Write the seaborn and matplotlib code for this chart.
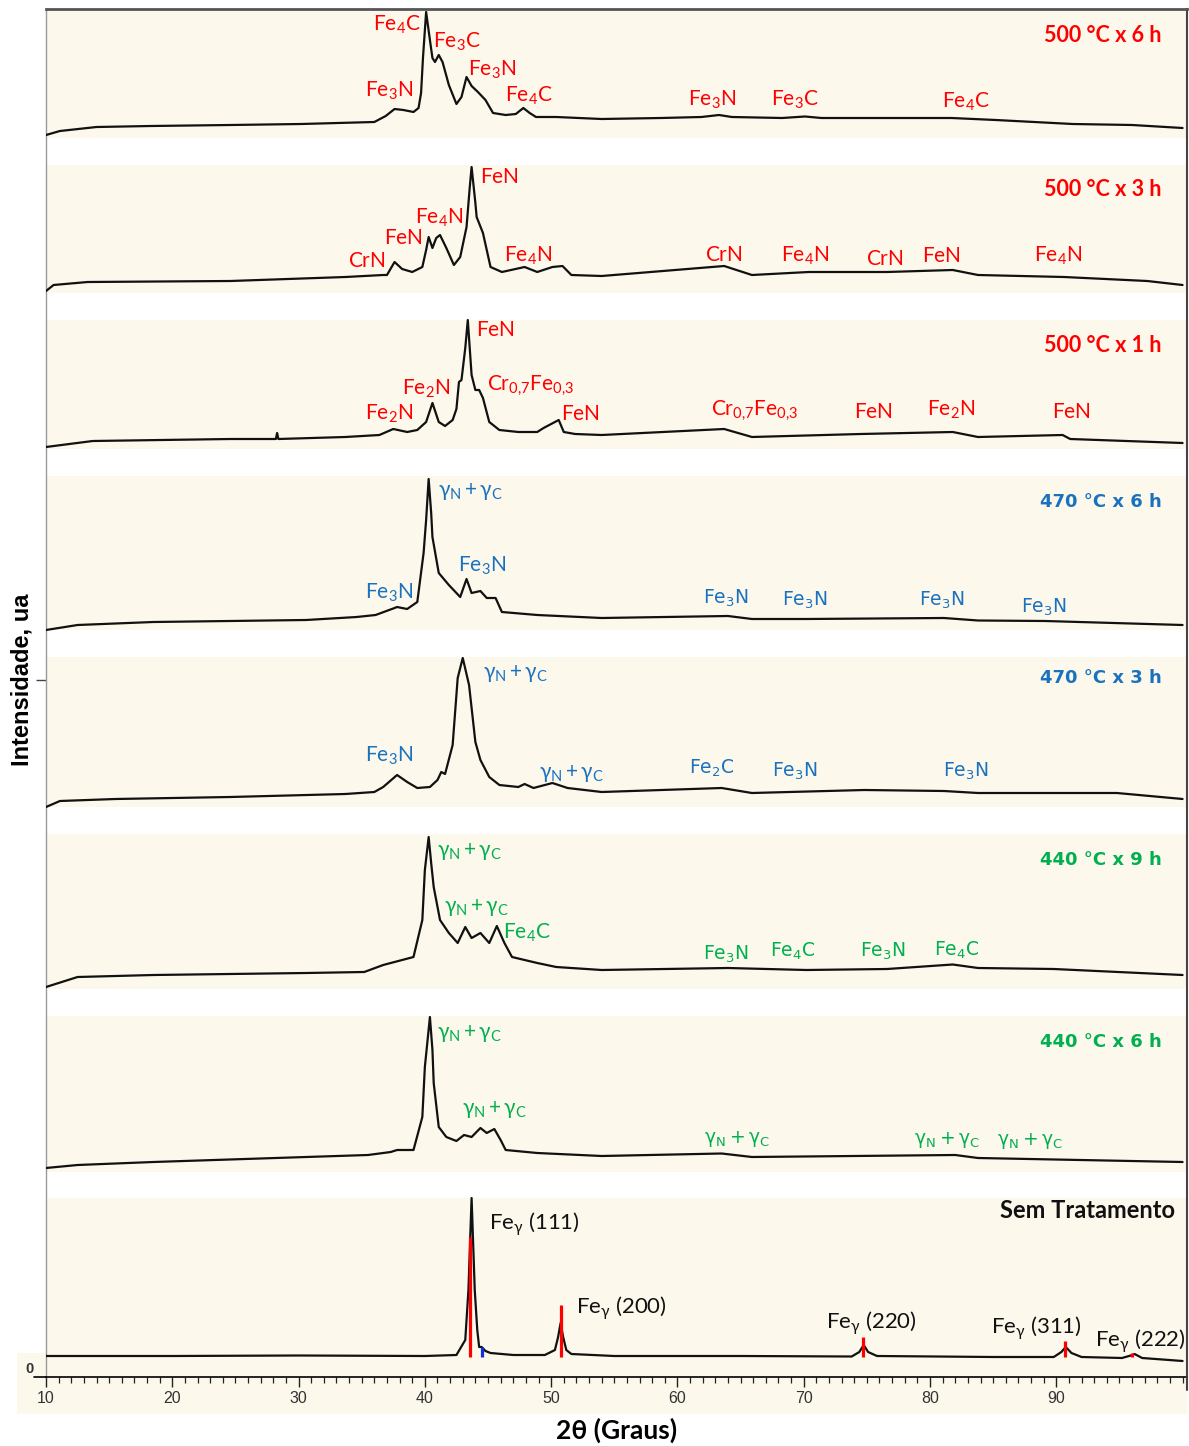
import matplotlib
matplotlib.use("Agg")
import matplotlib.pyplot as plt
from matplotlib.ticker import MultipleLocator
from matplotlib.patches import Rectangle
from matplotlib.lines import Line2D
import seaborn as sns

sns.set_style("white")
plt.rcParams['font.family'] = ['Lato', 'DejaVu Sans']
plt.rcParams['mathtext.fontset'] = 'custom'
plt.rcParams['mathtext.rm'] = 'Lato'
plt.rcParams['mathtext.it'] = 'Lato:italic'
plt.rcParams['mathtext.bf'] = 'Lato:bold'

# ---------------- data (2theta in degrees, intensity in a.u.) ----------------
tt_500_6h = [10.0, 11.1, 14.0, 18.3, 24.6, 30.2, 36.0, 36.9, 37.6, 38.3, 39.1, 39.5, 39.7, 39.85, 40.1,
             40.4, 40.6, 40.8, 41.1, 41.4, 41.9, 42.5, 42.9, 43.3, 43.7, 44.2, 44.8, 45.4, 46.4, 47.2,
             47.8, 48.3, 48.8, 50.4, 54.0, 58.7, 61.9, 63.3, 64.3, 68.3, 70.1, 71.4, 81.7, 85.2, 91.3,
             96.0, 100.0]
I_500_6h = [3, 7, 11, 12, 13, 14, 16, 22, 29, 28, 26, 30, 45, 80, 126,
            98, 80, 76, 83, 76, 53, 34, 41, 61, 52, 46, 38, 25, 23, 24,
            30, 25, 21, 21, 19, 20, 21, 23, 21, 20, 21.5, 20, 20, 18, 14,
            13, 10]

tt_500_3h = [10.0, 10.6, 13.3, 24.6, 33.7, 36.7, 37.0, 37.6, 38.2, 39.0, 39.8, 40.1, 40.3, 40.6, 40.9,
             41.2, 41.7, 42.3, 42.8, 43.3, 43.55, 43.7, 44.0, 44.1, 44.6, 45.2, 46.1, 47.9, 48.9, 50.1,
             50.9, 51.6, 54.0, 63.7, 65.9, 70.4, 76.6, 81.8, 83.8, 90.6, 97.2, 100.0]
I_500_3h = [2, 8, 11, 12, 16, 18, 18, 31, 24, 21, 26, 43, 56, 45, 55,
            58, 45, 28, 36, 66, 105, 126, 90, 76, 60, 26, 21, 26, 21, 26,
            27, 18, 17, 27, 18, 21, 21, 23, 18, 16, 12, 8]

tt_500_1h = [10.0, 13.7, 24.6, 28.2, 28.3, 28.4, 33.7, 36.4, 37.5, 38.6, 39.4, 40.1, 40.6, 41.1, 41.6,
             42.2, 42.5, 42.7, 42.9, 43.2, 43.4, 43.7, 44.0, 44.3, 44.6, 45.1, 45.9, 47.4, 48.9, 49.4,
             50.6, 51.0, 51.9, 54.0, 63.7, 65.9, 74.5, 81.8, 83.8, 90.5, 91.1, 100.0]
I_500_1h = [2, 8, 10, 10, 16, 10, 12, 14, 20, 17, 19, 27, 46, 27, 23,
            29, 40, 67, 69, 101, 129, 74, 59, 59, 51, 27, 19, 17, 17, 21,
            29, 17, 15, 14, 20, 12, 15, 17, 12, 14, 10, 6]

tt_470_6h = [10.0, 12.5, 18.5, 30.6, 34.6, 36.1, 37.6, 37.8, 38.6, 39.4, 39.9, 40.1, 40.3, 40.5, 40.6,
             41.1, 41.9, 42.8, 43.3, 43.7, 44.4, 44.9, 45.6, 46.1, 48.9, 54.0, 64.0, 65.9, 70.2, 81.1,
             83.8, 89.1, 100.0]
I_470_6h = [0, 5, 8, 10, 13, 15, 22, 23, 21, 28, 77, 110, 151, 117, 93,
            57, 45, 33, 51, 37, 39, 32, 32, 18, 15, 12, 14, 11, 11, 12,
            9.5, 9, 5]

tt_470_3h = [10.0, 11.1, 15.5, 24.6, 33.7, 36.0, 36.7, 37.8, 38.6, 39.4, 40.4, 41.0, 41.3, 41.6, 42.2,
             42.6, 43.0, 43.5, 44.0, 44.4, 45.1, 45.9, 47.4, 47.9, 48.6, 50.1, 51.3, 54.0, 63.5, 65.9,
             74.8, 81.1, 83.8, 94.8, 100.0]
I_470_3h = [0, 6, 8, 10, 13, 15, 20, 32, 25, 19, 20, 27, 35, 33, 62,
            129, 149, 122, 65, 47, 30, 22, 20, 23, 19, 24, 19, 15, 19, 14,
            17, 16, 14, 14, 8]

tt_440_9h = [10.0, 12.5, 18.5, 30.6, 35.2, 36.7, 37.6, 39.1, 39.8, 40.0, 40.3, 40.5, 40.7, 41.2, 41.9,
             42.6, 43.2, 43.7, 44.4, 45.1, 45.7, 46.3, 46.9, 48.9, 50.4, 54.0, 64.0, 70.2, 76.6, 81.8,
             83.8, 89.8, 100.0]
I_440_9h = [2, 12, 14, 16, 17, 24, 27, 32, 69, 119, 152, 126, 102, 69, 56,
            46, 62, 51, 56, 46, 63, 46, 32, 26, 22, 19, 21, 19, 20, 24.5,
            21, 20, 14]

tt_440_6h = [10.0, 12.5, 18.5, 30.6, 35.5, 37.3, 37.8, 39.1, 39.8, 40.0, 40.4, 40.6, 40.7, 41.1, 41.7,
             42.5, 43.1, 43.7, 44.4, 44.9, 45.5, 46.0, 46.4, 48.9, 54.0, 63.5, 65.9, 82.0, 83.8, 100.0]
I_440_6h = [4, 7, 10, 15, 17, 20, 22, 22, 55, 105, 155, 122, 89, 45, 35,
            31, 37, 35, 44, 39, 43, 32, 22, 19, 16, 18.5, 15, 17, 14, 10]

tt_sem = [10.0, 20.0, 30.0, 40.0, 42.5, 43.2, 43.45, 43.7, 43.95, 44.15, 44.3, 44.5, 44.8, 45.2, 47.0,
          49.5, 50.3, 50.55, 50.75, 50.95, 51.2, 51.6, 55.0, 65.0, 73.8, 74.4, 74.75, 75.1, 75.8, 85.0,
          89.8, 90.4, 90.75, 91.2, 92.0, 95.2, 95.9, 96.2, 96.8, 100.0]
I_sem = [21, 21, 21.5, 21, 22, 37, 87, 179, 87, 47, 30, 30, 26, 24, 22,
         22, 27, 40, 54, 40, 27, 23, 21, 21, 20.5, 25, 32, 25, 21, 20,
         20, 25, 30, 24, 20, 19, 21.5, 23, 19, 16]

# reference pattern (austenite) sticks
ref_tt = [43.6, 50.8, 74.7, 90.7, 96.0]
ref_I = [140, 72, 40, 36, 24]
ref_base = 20
ref2_tt = [44.5]
ref2_I = [30]

# phase annotations: (label, 2theta, height)
ann_500_6h = [(r'$\mathrm{Fe_4C}$', 37.8, 113), (r'$\mathrm{Fe_3C}$', 42.5, 96), (r'$\mathrm{Fe_3N}$', 45.3, 68),
              (r'$\mathrm{Fe_3N}$', 37.2, 47), (r'$\mathrm{Fe_4C}$', 48.2, 42), (r'$\mathrm{Fe_3N}$', 62.7, 38),
              (r'$\mathrm{Fe_3C}$', 69.3, 38), (r'$\mathrm{Fe_4C}$', 82.8, 36)]
ann_500_3h = [(r'$\mathrm{FeN}$', 45.9, 116), (r'$\mathrm{Fe_4N}$', 41.1, 75), (r'$\mathrm{FeN}$', 38.3, 55),
              (r'$\mathrm{CrN}$', 35.4, 32), (r'$\mathrm{Fe_4N}$', 48.2, 37), (r'$\mathrm{CrN}$', 63.7, 38),
              (r'$\mathrm{Fe_4N}$', 70.1, 37), (r'$\mathrm{CrN}$', 76.4, 34), (r'$\mathrm{FeN}$', 80.9, 37),
              (r'$\mathrm{Fe_4N}$', 90.1, 37)]
ann_500_1h = [(r'$\mathrm{FeN}$', 45.6, 119), (r'$\mathrm{Fe_2N}$', 40.1, 60),
              (r'$\mathrm{Cr_{0{,}7}Fe_{0{,}3}}$', 48.4, 63), (r'$\mathrm{Fe_2N}$', 37.2, 35),
              (r'$\mathrm{FeN}$', 52.3, 35), (r'$\mathrm{Cr_{0{,}7}Fe_{0{,}3}}$', 66.1, 38),
              (r'$\mathrm{FeN}$', 75.5, 37), (r'$\mathrm{Fe_2N}$', 81.7, 39), (r'$\mathrm{FeN}$', 91.2, 37)]
GN = r'$\mathrm{\gamma_N + \gamma_C}$'
ann_470_6h = [(GN, 43.6, 138), (r'$\mathrm{Fe_3N}$', 44.5, 64), (r'$\mathrm{Fe_3N}$', 37.2, 37),
              (r'$\mathrm{Fe_3N}$', 63.8, 32), (r'$\mathrm{Fe_3N}$', 70.1, 30), (r'$\mathrm{Fe_3N}$', 80.9, 30),
              (r'$\mathrm{Fe_3N}$', 89.0, 23)]
ann_470_3h = [(GN, 47.2, 134), (r'$\mathrm{Fe_3N}$', 37.2, 51), (GN, 51.6, 34), (r'$\mathrm{Fe_2C}$', 62.7, 39),
              (r'$\mathrm{Fe_3N}$', 69.3, 36), (r'$\mathrm{Fe_3N}$', 82.8, 36)]
ann_440_9h = [(GN, 43.5, 138), (GN, 44.1, 81), (r'$\mathrm{Fe_4C}$', 48.1, 56), (r'$\mathrm{Fe_3N}$', 63.8, 35),
              (r'$\mathrm{Fe_4C}$', 69.1, 38), (r'$\mathrm{Fe_3N}$', 76.3, 38), (r'$\mathrm{Fe_4C}$', 82.1, 39)]
ann_440_6h = [(GN, 43.5, 139), (GN, 45.5, 62), (GN, 64.7, 33), (GN, 81.4, 32), (GN, 87.9, 31)]
ann_sem = [(r'$\mathrm{Fe_{\gamma}}$ (111)', 45.1, 153), (r'$\mathrm{Fe_{\gamma}}$ (200)', 52.0, 69),
           (r'$\mathrm{Fe_{\gamma}}$ (220)', 71.8, 54), (r'$\mathrm{Fe_{\gamma}}$ (311)', 84.8, 49),
           (r'$\mathrm{Fe_{\gamma}}$ (222)', 93.1, 36)]

titles = ['500 °C x 6 h', '500 °C x 3 h', '500 °C x 1 h', '470 °C x 6 h',
          '470 °C x 3 h', '440 °C x 9 h', '440 °C x 6 h', 'Sem Tratamento']

# ---------------- layout / style ----------------
RED, BLUE, GREEN, BLACK = '#FF0000', '#1A72BF', '#00B050', '#111111'
BEIGE = '#FCF8EC'
W, H = 1189, 1446

series = [(tt_500_6h, I_500_6h), (tt_500_3h, I_500_3h), (tt_500_1h, I_500_1h), (tt_470_6h, I_470_6h),
          (tt_470_3h, I_470_3h), (tt_440_9h, I_440_9h), (tt_440_6h, I_440_6h), (tt_sem, I_sem)]
anns = [ann_500_6h, ann_500_3h, ann_500_1h, ann_470_6h, ann_470_3h, ann_440_9h, ann_440_6h, ann_sem]
colors = [RED, RED, RED, BLUE, BLUE, GREEN, GREEN, BLACK]
offsets = [1239, 1084, 928, 747, 570, 388, 205, 0]
band_h = [129, 128, 129, 154, 150, 155, 156, 179]
title_h = [103, 103, 103, 128, 129, 129, 130, 167]

fig = plt.figure(figsize=(W / 100, H / 100), dpi=100)
fig.patch.set_facecolor('white')
ax = fig.add_axes([46 / W, (H - 1377) / H, (1187 - 46) / W, 1368 / H])
ax.set_facecolor('none')

# beige area below the x axis
fig.patches.append(Rectangle((17 / W, (H - 1414) / H), 1170 / W, 61 / H, transform=fig.transFigure,
                             facecolor=BEIGE, edgecolor='none', zorder=-1))

for k in range(8):
    off = offsets[k]
    ax.axhspan(off, off + band_h[k], color=BEIGE, lw=0, zorder=0)
    tt, I = series[k]
    sns.lineplot(x=tt, y=[off + v for v in I], ax=ax, color='#111111', lw=1.6,
                 estimator=None, sort=False, zorder=3)
    c = colors[k]
    for lab, x, h in anns[k]:
        if k == 7:
            ax.text(x, off + h, lab, color=c, ha='left', va='center', fontsize=16,
                    family=['Lato', 'DejaVu Sans'], math_fontfamily='custom', zorder=5)
        elif 3 <= k <= 6 and x > 60:
            ax.text(x, off + h, lab, color=c, ha='center', va='center', fontsize=13.5,
                    math_fontfamily='dejavusans', zorder=5)
        else:
            ax.text(x, off + h, lab, color=c, ha='center', va='center', fontsize=15,
                    math_fontfamily='custom', zorder=5)
    if k < 3:
        ax.text(98.36, off + title_h[k], titles[k], color=c, ha='right', va='center',
                fontsize=15.5, fontweight='bold', family='Lato', zorder=5)
    elif k < 7:
        ax.text(98.36, off + title_h[k], titles[k], color=c, ha='right', va='center',
                fontsize=13, fontweight='bold', family='DejaVu Sans', zorder=5)
    else:
        ax.text(99.4, off + title_h[k], titles[k], color=c, ha='right', va='center',
                fontsize=17, fontweight='bold', family='Lato', zorder=5)

ax.vlines(ref_tt, ref_base, ref_I, colors=RED, lw=2.3, zorder=4)
ax.vlines(ref2_tt, ref_base, ref2_I, colors='#1030E0', lw=2.3, zorder=4)

ax.set_xlim(10, 100.35)
ax.set_ylim(0, 1368)
ax.set_xlabel('')
ax.set_ylabel('')
ax.set_xticks(range(10, 100, 10))
ax.set_xticklabels([str(v) for v in range(10, 100, 10)], fontsize=11.5, family='Liberation Sans',
                   color='#333333')
ax.xaxis.set_minor_locator(MultipleLocator(1))
ax.tick_params(axis='x', which='major', direction='out', length=7, width=1, color='#222',
               pad=3, bottom=True)
ax.tick_params(axis='x', which='minor', direction='out', length=4.3, width=0.9, color='#222', bottom=True)
ax.set_yticks([697])
ax.set_yticklabels([])
ax.tick_params(axis='y', direction='out', length=7, width=1, color='#444', left=True)

for s in ['top', 'right', 'left', 'bottom']:
    ax.spines[s].set_visible(True)
ax.spines['top'].set_color('#555555')
ax.spines['top'].set_linewidth(2)
ax.spines['right'].set_color('#444444')
ax.spines['right'].set_linewidth(1.5)
ax.spines['left'].set_color('#9a9a9a')
ax.spines['left'].set_linewidth(1)
ax.spines['bottom'].set_color('black')
ax.spines['bottom'].set_linewidth(1.2)

fig.lines.append(Line2D([34 / W, 46 / W], [(H - 1377) / H] * 2, transform=fig.transFigure,
                        color='black', lw=1.2))
fig.lines.append(Line2D([1187 / W] * 2, [(H - 1377) / H, (H - 1390) / H], transform=fig.transFigure,
                        color='#444444', lw=1.5))

fig.text(30 / W, 1 - 1369 / H, '0', ha='center', va='center', fontsize=10.5, fontweight='bold',
         family='Liberation Sans', color='#333')
fig.text(22 / W, 1 - 680 / H, 'Intensidade, ua', rotation=90, ha='center', va='center',
         fontsize=17, fontweight='bold', family='Liberation Sans', color='black')
fig.text(617 / W, 1 - 1430 / H, '2θ (Graus)', ha='center', va='center', fontsize=19,
         fontweight='bold', family=['Lato', 'DejaVu Sans'], color='black')

fig.savefig('out.png', dpi=100, facecolor='white')
